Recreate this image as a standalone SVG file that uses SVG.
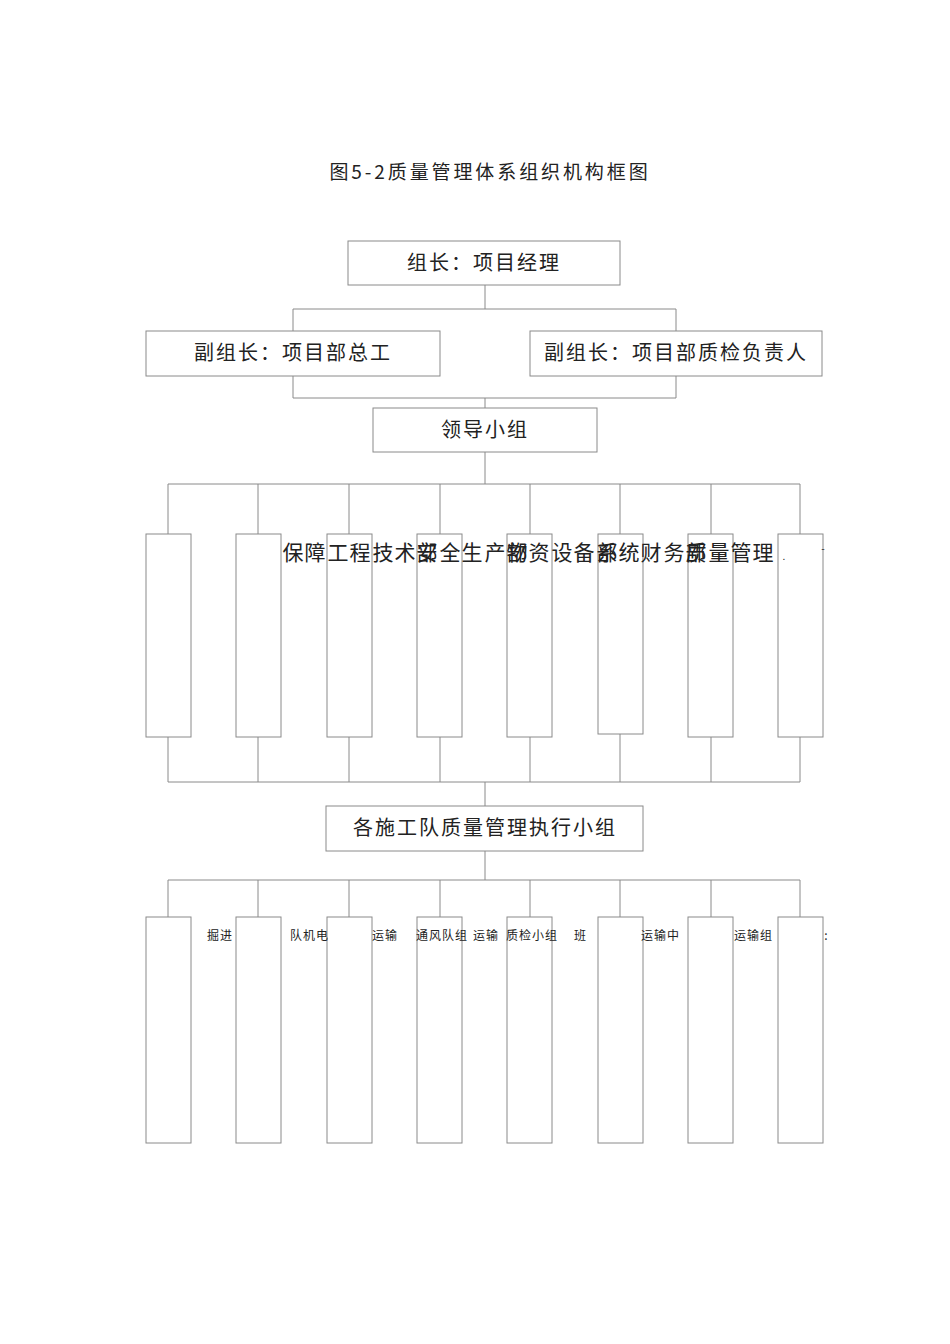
<svg xmlns="http://www.w3.org/2000/svg" width="950" height="1344" viewBox="0 0 950 1344">
<style>
.bx{fill:#fff;stroke:#8a8a8a;stroke-width:1}
.ln{fill:none;stroke:#8a8a8a;stroke-width:1}
.t{font-family:"Noto Sans CJK SC","Noto Sans CJK TC",sans-serif;font-size:20px;fill:#222;text-anchor:middle}
.c{font-family:"Noto Sans CJK SC",sans-serif;font-size:21px;fill:#222;text-anchor:middle}
.g{font-family:"Noto Sans CJK SC",sans-serif;font-size:12px;fill:#222;text-anchor:middle}
</style>
<rect width="950" height="1344" fill="#fff"/>
<text x="490" y="179" class="t" style="font-size:19px" letter-spacing="2.9">图5-2质量管理体系组织机构框图</text>
<g id="connectors">
<path class="ln" d="M485 285V309M293 309H676M293 309V331M676 309V331"/>
<path class="ln" d="M293 376V398M676 376V398M293 398H676M485 398V408"/>
<path class="ln" d="M485 452V484M168 484H800M168 484V534M258 484V534M349 484V534M440 484V534M530 484V534M620 484V534M711 484V534M800 484V534"/>
<path class="ln" d="M168 737V782M258 737V782M349 737V782M440 737V782M530 737V782M620 734V782M711 737V782M800 737V782M168 782H800M485 782V806"/>
<path class="ln" d="M485 851V880M168 880H800M168 880V917M258 880V917M349 880V917M440 880V917M530 880V917M620 880V917M711 880V917M800 880V917"/>
</g>
<g id="n-leader"><rect class="bx" x="348" y="241" width="272" height="44"/><text x="484" y="270" class="t" letter-spacing="2">组长：项目经理</text></g>
<g id="n-deputy1"><rect class="bx" x="146" y="331" width="294" height="45"/><text x="293" y="360" class="t" letter-spacing="2">副组长：项目部总工</text></g>
<g id="n-deputy2"><rect class="bx" x="530" y="331" width="292" height="45"/><text x="676" y="360" class="t" letter-spacing="2">副组长：项目部质检负责人</text></g>
<g id="n-group"><rect class="bx" x="373" y="408" width="224" height="44"/><text x="485" y="437" class="t" letter-spacing="2">领导小组</text></g>
<g id="row1">
<rect class="bx" x="146" y="534" width="45" height="203"/>
<rect class="bx" x="236" y="534" width="45" height="203"/>
<rect class="bx" x="327" y="534" width="45" height="203"/>
<rect class="bx" x="417" y="534" width="45" height="203"/>
<rect class="bx" x="507" y="534" width="45" height="203"/>
<rect class="bx" x="598" y="534" width="45" height="200"/>
<rect class="bx" x="688" y="534" width="45" height="203"/>
<rect class="bx" x="778" y="534" width="45" height="203"/>
</g>
<g id="row1-text">
<text class="c" y="560"><tspan x="293">保</tspan><tspan x="315">障</tspan><tspan x="338">工</tspan><tspan x="360">程</tspan><tspan x="383">技</tspan><tspan x="405">术</tspan><tspan x="427">部</tspan><tspan x="450">全</tspan><tspan x="472">生</tspan><tspan x="495">产</tspan><tspan x="517">部</tspan><tspan x="539">资</tspan><tspan x="562">设</tspan><tspan x="584">备</tspan><tspan x="607">部</tspan><tspan x="629">统</tspan><tspan x="651">财</tspan><tspan x="674">务</tspan><tspan x="696">部</tspan><tspan x="719">量</tspan><tspan x="741">管</tspan><tspan x="763">理</tspan></text>
<text class="c" y="560"><tspan x="427">安</tspan><tspan x="517">物</tspan><tspan x="607">系</tspan><tspan x="696">质</tspan></text>
<text class="c" y="560" x="784" style="font-size:10px">.</text>
<text class="c" y="552" x="823" style="font-size:10px">-</text>
</g>
<g id="n-exec"><rect class="bx" x="326" y="806" width="317" height="45"/><text x="485" y="835" class="t" letter-spacing="2">各施工队质量管理执行小组</text></g>
<g id="row2">
<rect class="bx" x="146" y="917" width="45" height="226"/>
<rect class="bx" x="236" y="917" width="45" height="226"/>
<rect class="bx" x="327" y="917" width="45" height="226"/>
<rect class="bx" x="417" y="917" width="45" height="226"/>
<rect class="bx" x="507" y="917" width="45" height="226"/>
<rect class="bx" x="598" y="917" width="45" height="226"/>
<rect class="bx" x="688" y="917" width="45" height="226"/>
<rect class="bx" x="778" y="917" width="45" height="226"/>
</g>
<g id="row2-text">
<text class="g" y="940"><tspan x="213">掘</tspan><tspan x="226">进</tspan></text>
<text class="g" y="940"><tspan x="296">队</tspan><tspan x="309">机</tspan><tspan x="322">电</tspan></text>
<text class="g" y="940"><tspan x="378">运</tspan><tspan x="391">输</tspan></text>
<text class="g" y="940"><tspan x="422">通</tspan><tspan x="435">风</tspan><tspan x="448">队</tspan><tspan x="461">组</tspan></text>
<text class="g" y="940"><tspan x="479">运</tspan><tspan x="492">输</tspan></text>
<text class="g" y="940"><tspan x="512">质</tspan><tspan x="525">检</tspan><tspan x="538">小</tspan><tspan x="551">组</tspan></text>
<text class="g" y="940"><tspan x="580">班</tspan></text>
<text class="g" y="940"><tspan x="647">运</tspan><tspan x="660">输</tspan><tspan x="673">中</tspan></text>
<text class="g" y="940"><tspan x="740">运</tspan><tspan x="753">输</tspan><tspan x="766">组</tspan></text>
<text class="g" y="940"><tspan x="826">:</tspan></text>
</g>
</svg>
